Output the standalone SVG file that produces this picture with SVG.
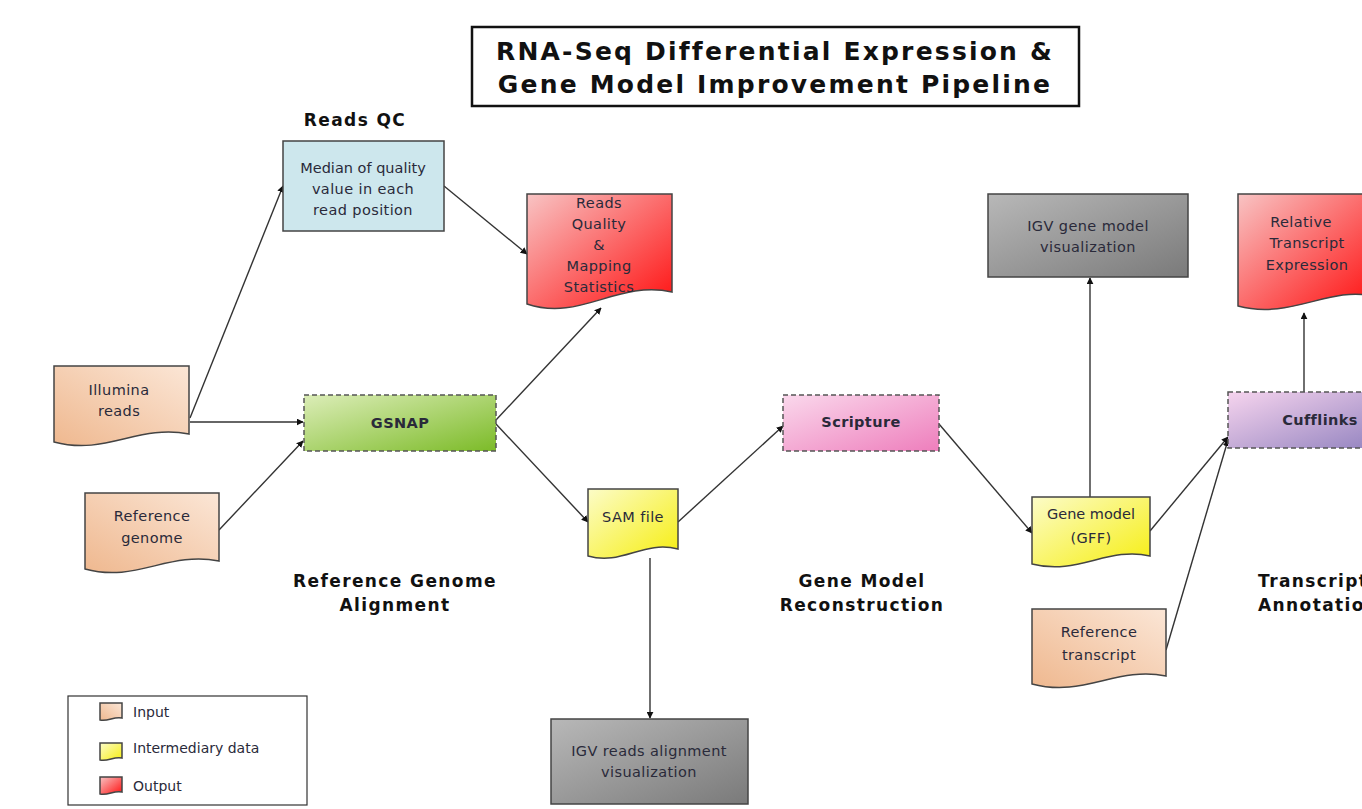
<svg xmlns="http://www.w3.org/2000/svg" width="1362" height="809" viewBox="0 0 1362 809">
<defs>
<style>
text{font-family:"DejaVu Sans","Liberation Sans",sans-serif;fill:#2a2a3a;}
.t{font-size:14.5px;text-anchor:middle;letter-spacing:0.4px;}
.b{font-weight:bold;}
.lab{font-size:17px;font-weight:bold;text-anchor:middle;fill:#111;letter-spacing:1.4px;}
.shape{stroke:#444;stroke-width:1.5;}
.dash{stroke:#555;stroke-width:1.5;stroke-dasharray:5,3;}
.conn{stroke:#333;stroke-width:1.4;fill:none;marker-end:url(#arr);}
</style>
<marker id="arr" viewBox="0 0 10 10" refX="9" refY="5" markerWidth="7" markerHeight="7" orient="auto" markerUnits="userSpaceOnUse">
<path d="M0,0 L10,5 L0,10 Z" fill="#111"/>
</marker>
<linearGradient id="gPeach" x1="1" y1="0" x2="0" y2="1"><stop offset="0" stop-color="#fbe6d6"/><stop offset="1" stop-color="#efb88f"/></linearGradient>
<linearGradient id="gRed" x1="0" y1="0" x2="1" y2="1"><stop offset="0" stop-color="#f8c4c4"/><stop offset="1" stop-color="#ff1010"/></linearGradient>
<linearGradient id="gYellow" x1="0" y1="0" x2="1" y2="1"><stop offset="0" stop-color="#fcfcc8"/><stop offset="1" stop-color="#f6ee10"/></linearGradient>
<linearGradient id="gGray" x1="0" y1="0" x2="1" y2="1"><stop offset="0" stop-color="#b8b8b8"/><stop offset="1" stop-color="#7a7a7a"/></linearGradient>
<linearGradient id="gGreen" x1="0" y1="0" x2="1" y2="1"><stop offset="0" stop-color="#dcedb8"/><stop offset="1" stop-color="#7cbb28"/></linearGradient>
<linearGradient id="gPink" x1="0" y1="0" x2="1" y2="1"><stop offset="0" stop-color="#fad8ec"/><stop offset="1" stop-color="#ee7ebc"/></linearGradient>
<linearGradient id="gPurple" x1="0" y1="0" x2="1" y2="1"><stop offset="0" stop-color="#f6d4ee"/><stop offset="1" stop-color="#9484c0"/></linearGradient>
</defs>
<rect width="1362" height="809" fill="#fff"/>

<g id="title">
<rect x="472" y="27" width="607" height="79" fill="#fff" stroke="#111" stroke-width="2.5"/>
<text x="775" y="60" class="b" style="font-size:25px;text-anchor:middle;fill:#111;letter-spacing:2.2px">RNA-Seq Differential Expression &amp;</text>
<text x="775" y="93" class="b" style="font-size:25px;text-anchor:middle;fill:#111;letter-spacing:2.2px">Gene Model Improvement Pipeline</text>
</g>

<g id="connectors">
<line class="conn" x1="190" y1="418" x2="283" y2="186"/>
<line class="conn" x1="190" y1="422" x2="303" y2="422"/>
<line class="conn" x1="219" y1="530" x2="303" y2="441"/>
<line class="conn" x1="444" y1="186" x2="527" y2="254"/>
<line class="conn" x1="496" y1="420" x2="601" y2="308"/>
<line class="conn" x1="496" y1="424" x2="588" y2="522"/>
<line class="conn" x1="678" y1="522" x2="783" y2="426"/>
<line class="conn" x1="650" y1="558" x2="650" y2="718"/>
<line class="conn" x1="939" y1="424" x2="1032" y2="533"/>
<line class="conn" x1="1090" y1="497" x2="1090" y2="278"/>
<line class="conn" x1="1150" y1="531" x2="1228" y2="437"/>
<line class="conn" x1="1166" y1="650" x2="1228" y2="440"/>
<line class="conn" x1="1304" y1="392" x2="1304" y2="313"/>
</g>

<g id="reads-qc-label"><text class="lab" x="355" y="126">Reads QC</text></g>

<g id="median">
<rect class="shape" x="283" y="141" width="161" height="90" fill="#cde7ed"/>
<text class="t" x="363" y="173" style="letter-spacing:0">Median of quality</text>
<text class="t" x="363" y="194">value in each</text>
<text class="t" x="363" y="215">read position</text>
</g>

<g id="reads-quality">
<path class="shape" fill="url(#gRed)" d="M527,194 H672 V292 C617,280 580,322 527,304 Z"/>
<text class="t" x="599" y="208">Reads</text>
<text class="t" x="599" y="229">Quality</text>
<text class="t" x="599" y="250">&amp;</text>
<text class="t" x="599" y="271">Mapping</text>
<text class="t" x="599" y="292">Statistics</text>
</g>

<g id="illumina">
<path class="shape" fill="url(#gPeach)" d="M54,366 H189 V434 C138,424 106,456 54,442 Z"/>
<text class="t" x="119" y="395">Illumina</text>
<text class="t" x="119" y="416">reads</text>
</g>

<g id="ref-genome">
<path class="shape" fill="url(#gPeach)" d="M85,493 H219 V561 C168,551 136,583 85,569 Z"/>
<text class="t" x="152" y="521">Reference</text>
<text class="t" x="152" y="543">genome</text>
</g>

<g id="gsnap">
<rect class="dash" x="304" y="395" width="192" height="56" fill="url(#gGreen)"/>
<text class="t b" x="400" y="428">GSNAP</text>
</g>

<g id="sam">
<path class="shape" fill="url(#gYellow)" d="M588,489 H678 V549 C643,540 622,566 588,556 Z"/>
<text class="t" x="633" y="522">SAM file</text>
</g>

<g id="scripture">
<rect class="dash" x="783" y="395" width="156" height="56" fill="url(#gPink)"/>
<text class="t b" x="861" y="427">Scripture</text>
</g>

<g id="igv-reads">
<rect class="shape" x="551" y="719" width="197" height="85" fill="url(#gGray)"/>
<text class="t" x="649" y="756">IGV reads alignment</text>
<text class="t" x="649" y="777">visualization</text>
</g>

<g id="rga-label">
<text class="lab" x="395" y="587">Reference Genome</text>
<text class="lab" x="395" y="611">Alignment</text>
</g>

<g id="gmr-label">
<text class="lab" x="862" y="587">Gene Model</text>
<text class="lab" x="862" y="611">Reconstruction</text>
</g>

<g id="igv-gene">
<rect class="shape" x="988" y="194" width="200" height="83" fill="url(#gGray)"/>
<text class="t" x="1088" y="231">IGV gene model</text>
<text class="t" x="1088" y="252">visualization</text>
</g>

<g id="relative-expr">
<path class="shape" fill="url(#gRed)" d="M1238,194 H1372 V296 C1330,286 1290,320 1238,306 Z"/>
<text class="t" x="1301" y="227">Relative</text>
<text class="t" x="1307" y="248">Transcript</text>
<text class="t" x="1307" y="270">Expression</text>
</g>

<g id="cufflinks">
<rect class="dash" x="1228" y="392" width="150" height="56" fill="url(#gPurple)"/>
<text class="t b" x="1320" y="425">Cufflinks</text>
</g>

<g id="gene-model">
<path class="shape" fill="url(#gYellow)" d="M1032,497 H1150 V556 C1108,546 1078,576 1032,564 Z"/>
<text class="t" x="1091" y="519" style="letter-spacing:0">Gene model</text>
<text class="t" x="1091" y="543">(GFF)</text>
</g>

<g id="ref-transcript">
<path class="shape" fill="url(#gPeach)" d="M1032,609 H1166 V676 C1116,666 1084,698 1032,684 Z"/>
<text class="t" x="1099" y="637">Reference</text>
<text class="t" x="1099" y="660">transcript</text>
</g>

<g id="ta-label">
<text class="lab" x="1258" y="587" style="text-anchor:start">Transcript</text>
<text class="lab" x="1258" y="611" style="text-anchor:start">Annotation</text>
</g>

<g id="legend">
<rect x="68" y="696" width="239" height="109" fill="#fff" stroke="#333" stroke-width="1.2"/>
<path class="shape" fill="url(#gPeach)" d="M100,703 H122 V718 C114,716 108,722 100,720 Z"/>
<path class="shape" fill="url(#gYellow)" d="M100,743 H122 V758 C114,756 108,762 100,760 Z"/>
<path class="shape" fill="url(#gRed)" d="M100,777 H122 V792 C114,790 108,796 100,794 Z"/>
<text x="133" y="717" style="font-size:14px">Input</text>
<text x="133" y="753" style="font-size:14px">Intermediary data</text>
<text x="133" y="791" style="font-size:14px">Output</text>
</g>
</svg>
